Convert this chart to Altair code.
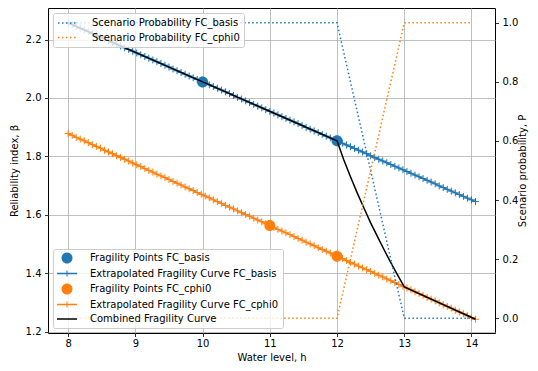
import altair as alt
import pandas as pd

# ---------------- data ----------------
levels = [
    8.00, 8.06, 8.12, 8.18, 8.24, 8.30, 8.36, 8.42, 8.48, 8.54,
    8.60, 8.66, 8.72, 8.78, 8.84, 8.90, 8.96, 9.02, 9.08, 9.14,
    9.20, 9.26, 9.32, 9.38, 9.44, 9.50, 9.56, 9.62, 9.68, 9.74,
    9.80, 9.86, 9.92, 9.98, 10.04, 10.10, 10.16, 10.22, 10.28, 10.34,
    10.40, 10.46, 10.52, 10.58, 10.64, 10.70, 10.76, 10.82, 10.88, 10.94,
    11.00, 11.06, 11.12, 11.18, 11.24, 11.30, 11.36, 11.42, 11.48, 11.54,
    11.60, 11.66, 11.72, 11.78, 11.84, 11.90, 11.96, 12.02, 12.08, 12.14,
    12.20, 12.26, 12.32, 12.38, 12.44, 12.50, 12.56, 12.62, 12.68, 12.74,
    12.80, 12.86, 12.92, 12.98, 13.04, 13.10, 13.16, 13.22, 13.28, 13.34,
    13.40, 13.46, 13.52, 13.58, 13.64, 13.70, 13.76, 13.82, 13.88, 13.94,
    14.00, 14.06,
]
beta_basis = [
    2.257, 2.251, 2.245, 2.239, 2.233, 2.227, 2.221, 2.215, 2.209, 2.202,
    2.196, 2.190, 2.184, 2.178, 2.172, 2.166, 2.160, 2.154, 2.148, 2.142,
    2.136, 2.130, 2.124, 2.118, 2.112, 2.106, 2.099, 2.093, 2.087, 2.081,
    2.075, 2.069, 2.063, 2.057, 2.051, 2.045, 2.039, 2.033, 2.027, 2.021,
    2.015, 2.009, 2.002, 1.996, 1.990, 1.984, 1.978, 1.972, 1.966, 1.960,
    1.954, 1.948, 1.942, 1.936, 1.930, 1.924, 1.918, 1.912, 1.906, 1.899,
    1.893, 1.887, 1.881, 1.875, 1.869, 1.863, 1.857, 1.851, 1.845, 1.839,
    1.833, 1.827, 1.821, 1.815, 1.809, 1.802, 1.796, 1.790, 1.784, 1.778,
    1.772, 1.766, 1.760, 1.754, 1.748, 1.742, 1.736, 1.730, 1.724, 1.718,
    1.712, 1.706, 1.699, 1.693, 1.687, 1.681, 1.675, 1.669, 1.663, 1.657,
    1.651, 1.645,
]
beta_cphi0 = [
    1.878, 1.872, 1.865, 1.859, 1.853, 1.847, 1.840, 1.834, 1.828, 1.821,
    1.815, 1.809, 1.802, 1.796, 1.790, 1.784, 1.777, 1.771, 1.765, 1.758,
    1.752, 1.746, 1.739, 1.733, 1.727, 1.721, 1.714, 1.708, 1.702, 1.695,
    1.689, 1.683, 1.676, 1.670, 1.664, 1.658, 1.651, 1.645, 1.639, 1.632,
    1.626, 1.620, 1.613, 1.607, 1.601, 1.595, 1.588, 1.582, 1.576, 1.569,
    1.563, 1.557, 1.550, 1.544, 1.538, 1.532, 1.525, 1.519, 1.513, 1.506,
    1.500, 1.494, 1.487, 1.481, 1.475, 1.469, 1.462, 1.456, 1.450, 1.443,
    1.437, 1.431, 1.424, 1.418, 1.412, 1.406, 1.399, 1.393, 1.387, 1.380,
    1.374, 1.368, 1.361, 1.355, 1.349, 1.343, 1.336, 1.330, 1.324, 1.317,
    1.311, 1.305, 1.298, 1.292, 1.286, 1.280, 1.273, 1.267, 1.261, 1.254,
    1.248, 1.242,
]

frag_h_basis = [10.0, 12.0]
frag_beta_basis = [2.055, 1.853]
frag_h_cphi0 = [11.0, 12.0]
frag_beta_cphi0 = [1.563, 1.458]

comb_h = [8.0, 12.0, 12.1, 12.2, 12.3, 12.4, 12.5, 12.6, 12.7, 12.8, 12.9, 13.0, 14.06]
comb_beta = [2.257, 1.853, 1.788, 1.730, 1.675, 1.623, 1.572, 1.526, 1.480, 1.436, 1.394, 1.353, 1.242]

scen_h = [8.0, 12.0, 13.0, 14.0]
p_basis = [1.0, 1.0, 0.0, 0.0]
p_cphi0 = [0.0, 0.0, 1.0, 1.0]

x_ticks = [8, 9, 10, 11, 12, 13, 14]
beta_ticks = [1.2, 1.4, 1.6, 1.8, 2.0, 2.2]
p_ticks = [0.0, 0.2, 0.4, 0.6, 0.8, 1.0]

legend_a = [
    "Fragility Points FC_basis",
    "Extrapolated Fragility Curve FC_basis",
    "Fragility Points FC_cphi0",
    "Extrapolated Fragility Curve FC_cphi0",
    "Combined Fragility Curve",
]
legend_b = ["Scenario Probability FC_basis", "Scenario Probability FC_cphi0"]

# ---------------- styling ----------------
BLUE = "#1f77b4"
ORANGE = "#ff7f0e"
FONT = "DejaVu Sans"

# legend symbols are drawn at symbolSize 100 (10 px box); paths reach +-2 to span 20 px
CIRCLE = "M1.1,0A1.1,1.1 0 1,1 -1.1,0A1.1,1.1 0 1,1 1.1,0Z"
PLUSLINE = "M-2,-0.15H-0.1V-0.6H0.1V-0.15H2V0.15H0.1V0.6H-0.1V0.15H-2Z"
BAR = "M-2,-0.15H2V0.15H-2Z"
STROKE_LINE = "M-2,0H2"
PLUS = "M-1,0H1M0,-1V1"

xs = alt.Scale(domain=[7.7, 14.35], nice=False, zero=False)
yls = alt.Scale(domain=[1.195, 2.308], nice=False, zero=False)
yrs = alt.Scale(domain=[-0.05, 1.05], nice=False, zero=False)

x_axis = alt.Axis(values=x_ticks, format="d", title="Water level, h", grid=True,
                  labelPadding=1.5, titlePadding=4)
yl_axis = alt.Axis(values=beta_ticks, format=".1f", title="Reliability index, β", grid=True, titlePadding=6)
yr_axis = alt.Axis(values=p_ticks, format=".1f", title="Scenario probability, P", grid=False,
                   orient="right", titleAngle=270, titlePadding=10)

legend_common = dict(
    title=None,
    padding=4,
    offset=5,
    symbolOffset=5,
    labelOffset=18,
    symbolSize=100,
    labelFont=FONT,
    labelFontSize=10,
    labelColor="black",
    labelLimit=0,
    fillColor="rgba(255,255,255,0.8)",
    strokeColor="#cccccc",
    cornerRadius=2,
    symbolOpacity=1,
)
leg_a = alt.Legend(orient="bottom-left", symbolStrokeWidth=0, rowPadding=4.5, **legend_common)
leg_b = alt.Legend(orient="top-left", symbolType=STROKE_LINE, symbolStrokeWidth=1.5,
                   symbolDash=[1.5, 2.5], rowPadding=3.5, **legend_common)

# ---------------- frames ----------------
pts_df = pd.DataFrame({
    "h": frag_h_basis + frag_h_cphi0,
    "beta": frag_beta_basis + frag_beta_cphi0,
    "series": [legend_a[0]] * len(frag_h_basis) + [legend_a[2]] * len(frag_h_cphi0),
})
ext_df = pd.DataFrame({"h": levels, "basis": beta_basis, "cphi0": beta_cphi0})
comb_df = pd.DataFrame({"h": comb_h, "beta": comb_beta})
scen_df = pd.DataFrame({
    "h": scen_h + scen_h,
    "p": p_basis + p_cphi0,
    "scenario": [legend_b[0]] * len(scen_h) + [legend_b[1]] * len(scen_h),
})

X = alt.X("h:Q", scale=xs, axis=x_axis)

points = alt.Chart(pts_df).mark_point(filled=True, size=100, opacity=1, strokeWidth=0).encode(
    x=X,
    y=alt.Y("beta:Q", scale=yls, axis=yl_axis),
    fill=alt.Fill("series:N", scale=alt.Scale(domain=legend_a, range=[BLUE, BLUE, ORANGE, ORANGE, "black"]), legend=leg_a),
    shape=alt.Shape("series:N", scale=alt.Scale(domain=legend_a, range=[CIRCLE, PLUSLINE, CIRCLE, PLUSLINE, BAR]), legend=leg_a),
)

def extrap(field, color):
    line = alt.Chart(ext_df).mark_line(color=color, strokeWidth=1.5).encode(
        x=X, y=alt.Y(f"{field}:Q", scale=yls, axis=yl_axis))
    marks = alt.Chart(ext_df).mark_point(shape=PLUS, size=49, color=color, filled=False,
                                         strokeWidth=1, opacity=1).encode(
        x=X, y=alt.Y(f"{field}:Q", scale=yls, axis=yl_axis))
    return line + marks

combined = alt.Chart(comb_df).mark_line(color="black", strokeWidth=1.5).encode(
    x=X, y=alt.Y("beta:Q", scale=yls, axis=yl_axis))

left = alt.layer(points, extrap("basis", BLUE), extrap("cphi0", ORANGE), combined)

right = alt.Chart(scen_df).mark_line(strokeWidth=1.5, strokeDash=[1.5, 2.5]).encode(
    x=X,
    y=alt.Y("p:Q", scale=yrs, axis=yr_axis),
    stroke=alt.Stroke("scenario:N", scale=alt.Scale(domain=legend_b, range=[BLUE, ORANGE]), legend=leg_b),
)

chart = alt.layer(left, right).resolve_scale(y="independent").properties(
    width=447,
    height=325,
    autosize=alt.AutoSizeParams(type="none"),
    padding={"left": 40, "top": 0, "right": 35, "bottom": 29},
).configure_view(
    stroke="black", strokeWidth=1
).configure_axis(
    labelFont=FONT, labelFontSize=10, labelColor="black",
    titleFont=FONT, titleFontSize=10, titleFontWeight="normal", titleColor="black",
    tickColor="black", tickSize=3.5, tickWidth=0.8, labelPadding=3.5,
    gridColor="#b0b0b0", gridWidth=0.8, domain=False,
)

chart.save("out.html", embed_options={"renderer": "svg", "actions": False})
